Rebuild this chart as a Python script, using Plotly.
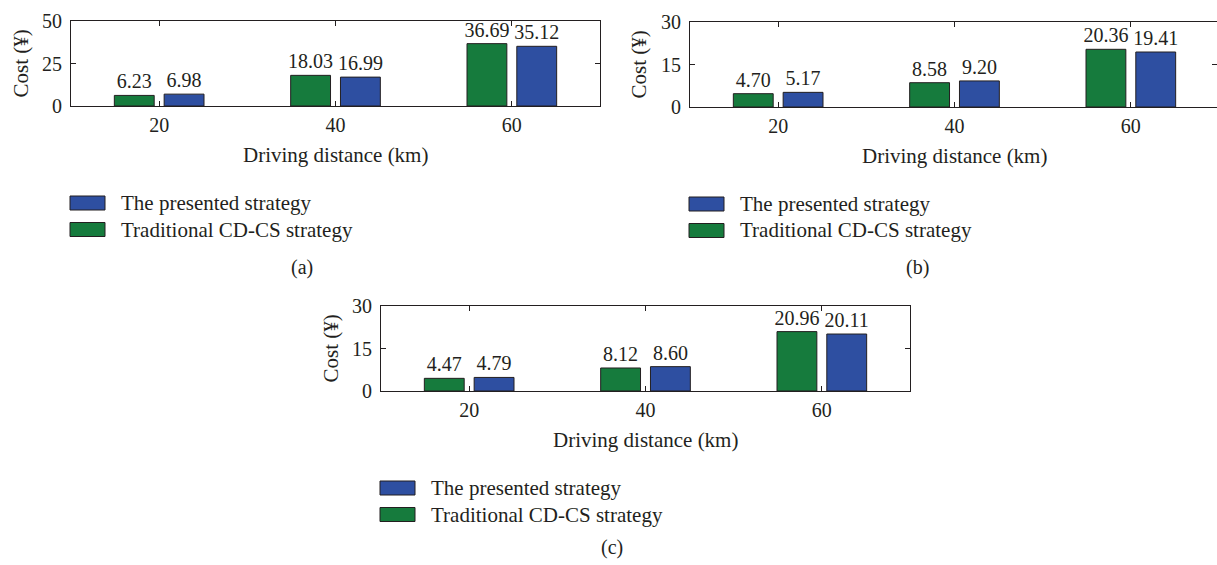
import plotly.graph_objects as go

# Driving distances (km) and charging cost (¥) for the three scenarios
distances = [20, 40, 60]

a_traditional = [6.23, 18.03, 36.69]
a_presented = [6.98, 16.99, 35.12]

b_traditional = [4.70, 8.58, 20.36]
b_presented = [5.17, 9.20, 19.41]

c_traditional = [4.47, 8.12, 20.96]
c_presented = [4.79, 8.60, 20.11]

series_names = ["The presented strategy", "Traditional CD-CS strategy"]
panel_labels = ["(a)", "(b)", "(c)"]
x_title = "Driving distance (km)"
y_title = "Cost (¥)"

W, H = 1217, 565
GREEN = "#167b3d"
BLUE = "#2e4fa1"
INK = "#231f20"
FONT = "Liberation Serif"

# panel geometry in pixels: left, right, top, bottom, y max, y step, label x, label y
panels = [
    dict(left=71, right=600, top=21, bottom=106, ymax=50, dtick=25, lx=302, ly=268,
         trad=a_traditional, pres=a_presented),
    dict(left=690, right=1219, top=22, bottom=107, ymax=30, dtick=15, lx=917, ly=268,
         trad=b_traditional, pres=b_presented),
    dict(left=381, right=910, top=306, bottom=391, ymax=30, dtick=15, lx=612, ly=547,
         trad=c_traditional, pres=c_presented),
]

fig = go.Figure()
annotations = []
shapes = []


def px(x):
    return x / W


def py(y):
    return 1 - y / H


for i, p in enumerate(panels, start=1):
    xa = "x" if i == 1 else f"x{i}"
    ya = "y" if i == 1 else f"y{i}"
    for name, vals, color in [(series_names[1], p["trad"], GREEN),
                              (series_names[0], p["pres"], BLUE)]:
        fig.add_trace(go.Bar(
            x=distances, y=vals, name=name, xaxis=xa, yaxis=ya,
            marker=dict(color=color, line=dict(color=INK, width=1)),
            texttemplate="%{y:.2f}", textposition="outside",
            textfont=dict(family=FONT, size=20, color=INK),
            constraintext="none", cliponaxis=False, showlegend=False,
        ))

    right = min(p["right"], W)
    xmax = 10 + 60 * (right - p["left"]) / (p["right"] - p["left"])
    axis_common = dict(showline=True, linecolor=INK, linewidth=1, mirror="ticks",
                       ticks="inside", ticklen=5, tickcolor=INK, showgrid=False,
                       zeroline=False, automargin=False,
                       tickfont=dict(family=FONT, size=20, color=INK))
    fig.update_layout(**{
        ("xaxis" if i == 1 else f"xaxis{i}"): dict(
            domain=[px(p["left"]), px(right)], range=[10, xmax], anchor=ya,
            tickvals=distances, ticklabelstandoff=1, **axis_common),
        ("yaxis" if i == 1 else f"yaxis{i}"): dict(
            domain=[py(p["bottom"]), py(p["top"])], range=[0, p["ymax"]], anchor=xa,
            dtick=p["dtick"], ticklabelstandoff=4, **axis_common),
    })

    cx = (p["left"] + p["right"]) / 2
    cy = (p["top"] + p["bottom"]) / 2
    annotations.append(dict(text=x_title, x=px(cx), y=py(p["bottom"] + 49),
                            xref="paper", yref="paper", showarrow=False,
                            xanchor="center", yanchor="middle",
                            font=dict(family=FONT, size=21, color=INK)))
    annotations.append(dict(text=y_title, x=px(p["left"] - 51), y=py(cy),
                            xref="paper", yref="paper", showarrow=False, textangle=-90,
                            xanchor="center", yanchor="middle",
                            font=dict(family=FONT, size=21, color=INK)))
    annotations.append(dict(text=panel_labels[i - 1], x=px(p["lx"]), y=py(p["ly"]),
                            xref="paper", yref="paper", showarrow=False,
                            xanchor="center", yanchor="middle",
                            font=dict(family=FONT, size=20, color=INK)))

    # legend block below each panel
    sw_left = p["left"] - 1
    for k, (name, color) in enumerate([(series_names[0], BLUE), (series_names[1], GREEN)]):
        top = p["bottom"] + 90 + 26.5 * k
        shapes.append(dict(type="rect", xref="paper", yref="paper",
                           x0=px(sw_left), x1=px(sw_left + 35),
                           y0=py(top + 14), y1=py(top),
                           fillcolor=color, line=dict(color=INK, width=1)))
        annotations.append(dict(text=name, x=px(sw_left + 49), y=py(top + 7),
                                xref="paper", yref="paper", showarrow=False,
                                xanchor="left", yanchor="middle",
                                font=dict(family=FONT, size=21, color=INK)))

fig.update_layout(
    width=W, height=H,
    margin=dict(l=0, r=0, t=0, b=0, autoexpand=False),
    paper_bgcolor="white", plot_bgcolor="white",
    barmode="group", bargap=0.435, bargroupgap=0.2,
    annotations=annotations, shapes=shapes,
    font=dict(family=FONT, color=INK),
)

fig.write_html("out.html")
